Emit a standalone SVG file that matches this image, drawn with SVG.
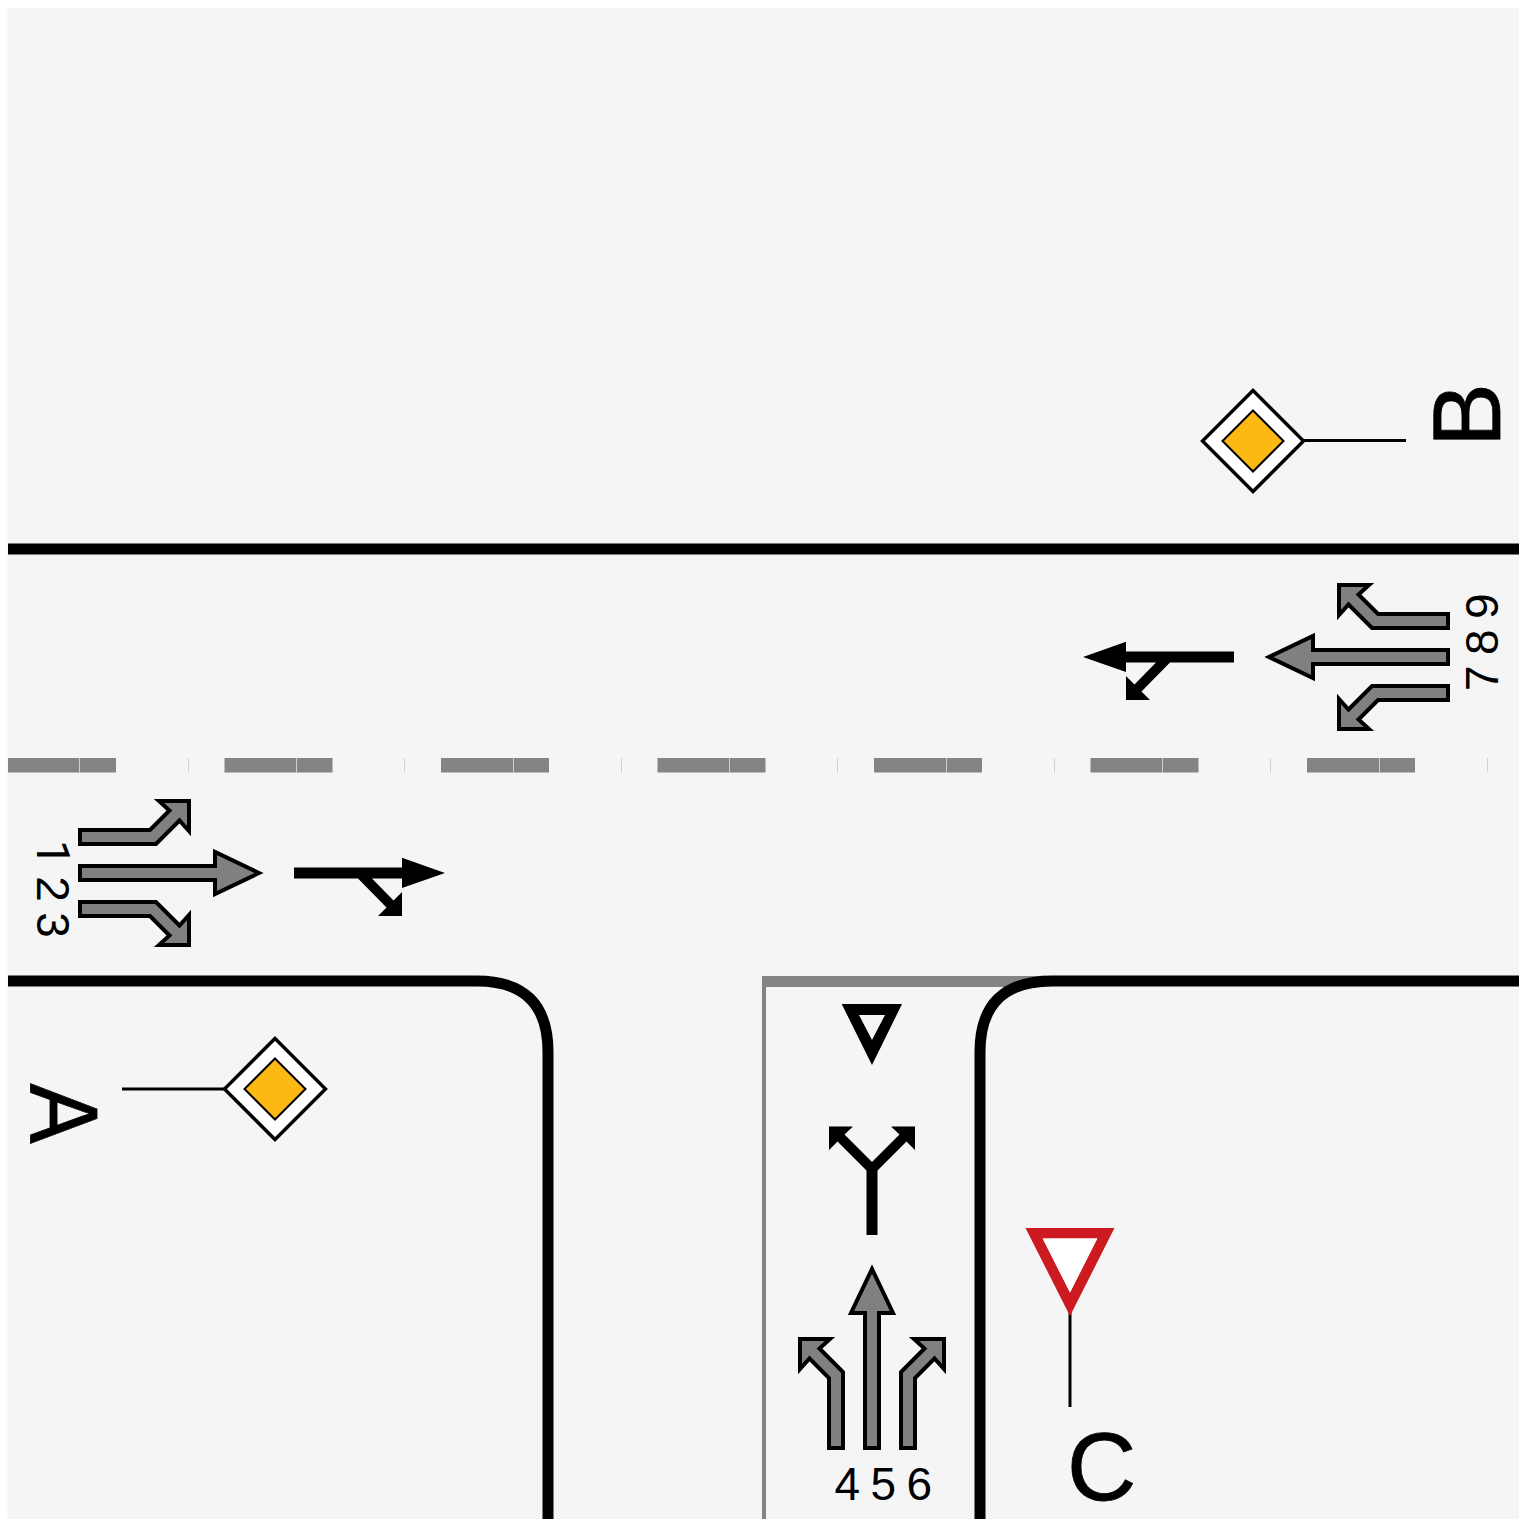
<svg xmlns="http://www.w3.org/2000/svg" width="1519" height="1519" viewBox="0 0 1519 1519">
<style>
text{font-family:"Liberation Sans",Arial,sans-serif;fill:#000}
.big{font-size:96px;stroke:#000;stroke-width:0.800px}
.num{font-size:46px;word-spacing:-2.400px}
.one{font-family:Roboto,"Liberation Sans",sans-serif}
.edge{fill:none;stroke:#000;stroke-width:11}
.lane{fill:#808080;stroke:#000;stroke-width:4}
.dash{fill:#848484}
.tick{stroke:#d0d0d0;stroke-width:1}
.post{stroke:#000;stroke-width:3;fill:none}
.sign{fill:#fff;stroke:#000;stroke-width:3.400}
.core{fill:#fdb913;stroke:#000;stroke-width:2}
</style>
<defs>
<g id="lanes">
<polygon class="lane" points="80,830 150,830 169.500,810.500 159,801 189,801 189,831 179.500,820.500 156,844 80,844"/>
<polygon class="lane" points="80,866 215,866 215,852 259,873 215,894 215,880 80,880"/>
<polygon class="lane" points="80,916 150,916 169.500,935.500 159,945 189,945 189,915 179.500,925.500 156,902 80,902"/>
</g>
<g id="black">
<polygon points="294,867.500 402,867.500 402,857.700 445,873 402,888 402,878.500 372,878.500 393.500,900.500 402,892 402,916 378,916 386.500,907.500 358,878.500 294,878.500"/>
</g>
<g id="prio">
<polygon class="sign" points="0,-50.500 50.500,0 0,50.500 -50.500,0"/>
<polygon class="core" points="0,-30.500 30.500,0 0,30.500 -30.500,0"/>
</g>
</defs>
<rect x="7.500" y="8" width="1511.500" height="1511" fill="#f5f5f5"/>
<g id="markings">
<rect x="762" y="976" width="280" height="11" fill="#848484"/>
<rect x="762" y="976" width="4" height="543" fill="#848484"/>
<g id="centre-line">
<rect class="dash" x="8" y="758" width="108" height="14.500"/>
<rect class="dash" x="224.500" y="758" width="108" height="14.500"/>
<rect class="dash" x="441" y="758" width="108" height="14.500"/>
<rect class="dash" x="657.500" y="758" width="108" height="14.500"/>
<rect class="dash" x="874" y="758" width="108" height="14.500"/>
<rect class="dash" x="1090.500" y="758" width="108" height="14.500"/>
<rect class="dash" x="1307" y="758" width="108" height="14.500"/>
<path class="tick" d="M79.500,758v14.500M188.500,758v14.500M296.500,758v14.500M404.500,758v14.500M513.500,758v14.500M621.500,758v14.500M729.500,758v14.500M837.500,758v14.500M946.500,758v14.500M1054.500,758v14.500M1162.500,758v14.500M1270.500,758v14.500M1379.500,758v14.500M1487.500,758v14.500"/>
</g>
<path class="edge" d="M8,549H1519"/>
<path class="edge" d="M8,981H477Q548,981 548,1052V1519"/>
<path class="edge" d="M1519,981H1052Q980,981 980,1052V1519"/>
</g>
<g id="approach-a">
<use href="#lanes"/>
<use href="#black"/>
<text class="num" transform="translate(36.500,840) rotate(90)"><tspan class="one">1</tspan> 2 3</text>
</g>
<g id="approach-b">
<use href="#lanes" transform="translate(1528,1530) rotate(180)"/>
<use href="#black" transform="translate(1528,-216) scale(-1,1)"/>
<text class="num" transform="translate(1498,691) rotate(-90)">7 8 9</text>
</g>
<g id="approach-c">
<use href="#lanes" transform="translate(872,1450) rotate(-90) translate(-78,-873)"/>
<polygon points="866.500,1235 877.500,1235 877.500,1170.500 906.500,1141.500 915,1150 915,1126.500 891,1126.500 899.500,1134.500 872,1162 844.500,1134.500 853,1126.500 829,1126.500 829,1150 837.500,1141.500 866.500,1170.500"/>
<path fill-rule="evenodd" d="M841.700,1004H902L872,1065ZM859,1015H885L872,1040Z"/>
<text class="num" x="834.500" y="1500">4 5 6</text>
</g>
<g id="sign-a">
<path class="post" d="M122,1089H224"/>
<use href="#prio" transform="translate(275,1089)"/>
<text class="big" transform="translate(30.500,1083.500) rotate(90) scale(0.94,1)">A</text>
</g>
<g id="sign-b">
<path class="post" d="M1304,440.500H1406"/>
<use href="#prio" transform="translate(1253,441)"/>
<text class="big" transform="translate(1500,447) rotate(-90)">B</text>
</g>
<g id="sign-c">
<path class="post" d="M1070,1312V1407"/>
<path fill-rule="evenodd" d="M1025.500,1228H1114.500L1070,1316ZM1042.700,1238.500H1097.300L1070,1292.500Z" fill="#cc1a20"/>
<polygon points="1042.700,1238.500 1097.300,1238.500 1070,1292.500" fill="#fff"/>
<text class="big" x="1067" y="1500">C</text>
</g>
</svg>
